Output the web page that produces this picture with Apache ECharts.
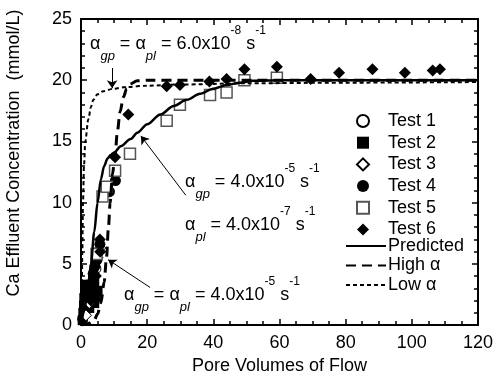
<!DOCTYPE html>
<html>
<head>
<meta charset="utf-8">
<script src="https://cdn.jsdelivr.net/npm/echarts@6/dist/echarts.min.js"></script>
<style>
  html, body { margin: 0; padding: 0; background: #fff; }
  #chart { width: 498px; height: 380px; }
</style>
</head>
<body>
<div id="chart"></div>
<script>
// axis ranges / tick steps
const xRange = [0, 120];
const xStep = 20;
const yRange = [0, 25];
const yStep = 5;

// measured data [pore volumes, Ca mmol/L]
const test1 = [[0.5, 0.5], [1.5, 1.2], [2.5, 2.2], [3.5, 3.2], [4.5, 4.6]];
const test2 = [[0.5, 0.4], [0.7, 1.0], [0.9, 1.6], [1.0, 2.2], [1.2, 2.8], [1.4, 3.3], [1.6, 3.0], [2.0, 2.0],
  [2.0, 3.2], [2.5, 1.4], [2.5, 2.6], [3.0, 2.4], [3.0, 3.3], [3.5, 2.8], [4.0, 3.6], [4.0, 1.8], [4.5, 2.3],
  [5.0, 2.8]];
const test3 = [[1.5, 0.8], [2.5, 1.8], [3.8, 4.2], [5.0, 5.5], [5.8, 6.3]];
const test4 = [[2.8, 2.6], [3.7, 4.2], [4.2, 4.8], [4.8, 5.3], [5.7, 6.6], [8.6, 10.9], [10.4, 11.8]];
const test5 = [[4.7, 5.8], [6.5, 10.5], [7.8, 11.3], [10.3, 12.6], [14.8, 14.0], [25.9, 16.7], [29.9, 18.0],
  [39.0, 18.8], [44.0, 19.0], [49.4, 20.0], [59.2, 20.2]];
const test6 = [[3.0, 2.0], [4.5, 4.0], [5.7, 7.0], [5.8, 6.0], [10.3, 13.7], [14.3, 17.2], [25.9, 19.5],
  [29.9, 19.6], [38.8, 19.9], [44.0, 20.1], [49.4, 20.9], [59.2, 21.1], [69.4, 20.1], [78.0, 20.6],
  [88.1, 20.9], [97.9, 20.6], [106.3, 20.8], [108.5, 20.9]];

// model curves
const predicted = [[0, 0], [1, 1.2], [2, 2.8], [3, 5.0], [4, 7.6], [5, 10.0], [6, 11.9], [7, 13.0], [8, 13.6],
  [9, 13.9], [10, 14.1], [12, 14.6], [15, 15.2], [17, 15.7], [20, 16.4], [24, 17.2], [28, 17.9], [32, 18.4],
  [36, 18.9], [40, 19.3], [44, 19.6], [48, 19.8], [52, 19.95], [60, 20.0], [120, 20.0]];
const highAlpha = [[0, 0], [2, 0.1], [4, 0.4], [5, 0.9], [6, 1.8], [7, 3.5], [7.7, 5.5], [8.3, 8], [8.8, 10],
  [9.5, 12.3], [10.3, 13.9], [11, 15.8], [11.8, 17.4], [12.8, 18.6], [13.8, 19.3], [15, 19.7], [17, 19.95],
  [20, 20.0], [120, 20.0]];
const lowAlpha = [[0, 0], [0.2, 2], [0.4, 6], [0.6, 10], [0.9, 13], [1.3, 15], [2.2, 16.8], [3, 17.8],
  [3.7, 18.4], [5, 18.85], [6.7, 19.1], [9.7, 19.3], [13.8, 19.45], [20, 19.55], [30, 19.65], [50, 19.75],
  [80, 19.8], [120, 19.85]];

// annotation arrows, [from, to] in data coords
const arrows = [
  [[9.4, 21.0], [9.4, 19.35]],
  [[31.7, 10.6], [18.1, 15.45]],
  [[20.9, 3.07], [8.2, 5.34]]
];

const FONT = '"Liberation Sans", Arial, sans-serif';
const chart = echarts.init(document.getElementById('chart'));

function xAxisCfg(pos) {
  return {
    type: 'value', position: pos, min: xRange[0], max: xRange[1], interval: xStep,
    axisLine: { show: true, onZero: false, lineStyle: { color: '#000', width: 2 } },
    axisTick: { show: true, inside: true, length: 6, lineStyle: { color: '#000', width: 1.5 } },
    minorTick: { show: true, splitNumber: 4, length: 4, lineStyle: { color: '#000', width: 1.5 } },
    splitLine: { show: false },
    axisLabel: { show: pos === 'bottom', fontSize: 18, color: '#000', margin: 9, fontFamily: FONT },
    name: pos === 'bottom' ? 'Pore Volumes of Flow' : '',
    nameLocation: 'middle', nameGap: 29,
    nameTextStyle: { fontSize: 18, color: '#000', fontFamily: FONT }
  };
}
function yAxisCfg(pos) {
  return {
    type: 'value', position: pos, min: yRange[0], max: yRange[1], interval: yStep,
    axisLine: { show: true, onZero: false, lineStyle: { color: '#000', width: 2 } },
    axisTick: { show: true, inside: true, length: 6, lineStyle: { color: '#000', width: 1.5 } },
    minorTick: { show: true, splitNumber: 5, length: 4, lineStyle: { color: '#000', width: 1.5 } },
    splitLine: { show: false },
    axisLabel: { show: pos === 'left', fontSize: 18, color: '#000', margin: 9, fontFamily: FONT }
  };
}

function scatter(name, data, symbol, size, fill, border, bw) {
  return {
    name: name, type: 'scatter', data: data, symbol: symbol, symbolSize: size,
    itemStyle: { color: fill, borderColor: border, borderWidth: bw, opacity: 1 }
  };
}
function curve(name, data, width, dash) {
  return {
    name: name, type: 'line', data: data, showSymbol: false, symbol: 'none',
    smooth: 0.3, smoothMonotone: 'x',
    lineStyle: { color: '#000', width: width, type: dash },
    itemStyle: { color: '#000' }
  };
}

const predictedSeries = curve('Predicted', predicted, 2.5, 'solid');
predictedSeries.markLine = {
  silent: true, symbol: ['none', 'arrow'], symbolSize: 8,
  lineStyle: { color: '#000', width: 1, type: 'solid' },
  label: { show: false },
  data: arrows.map(a => [{ coord: a[0] }, { coord: a[1] }])
};

const rich = {
  m: { fontSize: 18, fontFamily: FONT, lineHeight: 38, fill: '#000' },
  sub: { fontSize: 13, fontFamily: FONT, fontStyle: 'italic', lineHeight: 12, verticalAlign: 'bottom', fill: '#000' },
  sup: { fontSize: 12, fontFamily: FONT, lineHeight: 24, verticalAlign: 'top', fill: '#000' }
};
function note(x, y, text) {
  return {
    type: 'text', x: x, y: y, silent: true,
    style: { text: text, rich: rich, fontSize: 18, fontFamily: FONT, fill: '#000',
      verticalAlign: 'middle', textVerticalAlign: 'middle' }
  };
}

chart.setOption({
  animation: false,
  grid: { left: 81, right: 20, top: 19, bottom: 52 },
  xAxis: [xAxisCfg('bottom'), xAxisCfg('top')],
  yAxis: [yAxisCfg('left'), yAxisCfg('right')],
  legend: [
    {
      data: ['Test 1', 'Test 2', 'Test 3', 'Test 4', 'Test 5', 'Test 6'],
      orient: 'vertical', left: 356, top: 112, padding: 0,
      itemWidth: 12, itemHeight: 12, itemGap: 3.7,
      textStyle: { fontSize: 18, color: '#000', fontFamily: FONT, padding: [0, 0, 0, 14] }
    },
    {
      data: ['Predicted', 'High α', 'Low α'],
      orient: 'vertical', left: 345, top: 237, padding: 0,
      itemWidth: 40, itemHeight: 12, itemGap: 1.5,
      itemStyle: { opacity: 0, color: 'transparent', borderWidth: 0 },
      textStyle: { fontSize: 18, color: '#000', fontFamily: FONT, padding: [0, 0, 0, -3] }
    }
  ],
  graphic: [
    {
      type: 'text', x: 14, y: 153, rotation: Math.PI / 2, silent: true,
      style: { text: 'Ca Effluent Concentration  (mmol/L)', fontSize: 18, fontFamily: FONT, fill: '#000',
        align: 'center', verticalAlign: 'middle', textAlign: 'center', textVerticalAlign: 'middle' }
    },
    note(90, 44, '{m|α}{sub|gp}{m| = α}{sub|pl}{m| = 6.0x10}{sup|-8}{m| s}{sup|-1}'),
    note(185, 182, '{m|α}{sub|gp}{m| = 4.0x10}{sup|-5}{m| s}{sup|-1}'),
    note(185, 225, '{m|α}{sub|pl}{m| = 4.0x10}{sup|-7}{m| s}{sup|-1}'),
    note(124, 295, '{m|α}{sub|gp}{m| = α}{sub|pl}{m| = 4.0x10}{sup|-5}{m| s}{sup|-1}')
  ],
  series: [
    scatter('Test 1', test1, 'circle', 10, '#fff', '#000', 1),
    scatter('Test 2', test2, 'rect', 10, '#000', '#000', 0),
    scatter('Test 3', test3, 'diamond', 11, '#fff', '#000', 1),
    scatter('Test 4', test4, 'circle', 11, '#000', '#000', 0),
    scatter('Test 5', test5, 'rect', 11, '#fff', '#555', 1.5),
    scatter('Test 6', test6, 'diamond', 12, '#000', '#000', 0),
    predictedSeries,
    curve('High α', highAlpha, 3, [10, 6]),
    curve('Low α', lowAlpha, 2, [4, 3])
  ]
});
</script>
</body>
</html>
